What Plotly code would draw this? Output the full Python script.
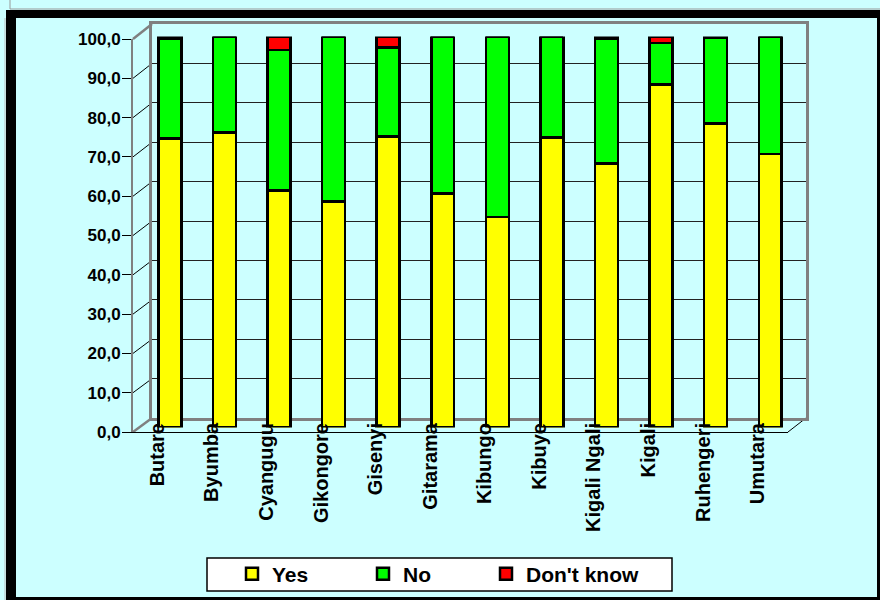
import plotly.graph_objects as go

# ---- data ----
categories = ["Butare", "Byumba", "Cyangugu", "Gikongore", "Gisenyi", "Gitarama",
              "Kibungo", "Kibuye", "Kigali Ngali", "Kigali", "Ruhengeri", "Umutara"]
yes = [73.9, 75.5, 60.6, 57.8, 74.4, 59.9, 53.8, 74.2, 67.5, 87.7, 77.7, 70.0]
no = [25.6, 24.5, 35.9, 42.2, 22.8, 40.1, 46.2, 25.8, 31.9, 10.7, 21.9, 30.0]
dont_know = [0.5, 0.0, 3.5, 0.0, 2.8, 0.0, 0.0, 0.0, 0.6, 1.6, 0.4, 0.0]
tick_values = [0, 10, 20, 30, 40, 50, 60, 70, 80, 90, 100]
tick_labels = ["0,0", "10,0", "20,0", "30,0", "40,0", "50,0", "60,0", "70,0", "80,0", "90,0", "100,0"]

W, H = 880, 600
BG = "#CCFFFF"


def px(x):
    return x / W


def py(y):
    return 1 - y / H


fig = go.Figure()

# subplot 1: back wall (gridlines only)
fig.add_trace(go.Scatter(x=[], y=[], xaxis="x", yaxis="y", showlegend=False, hoverinfo="skip"))

# subplot 2: bars
series = [("Yes", yes, "#FFFF00", "legend"),
          ("No", no, "#00FF00", "legend2"),
          ("Don't know", dont_know, "#FF0000", "legend3")]
for name, vals, col, leg in series:
    fig.add_trace(go.Bar(
        x=categories, y=vals, name=name, xaxis="x2", yaxis="y2",
        width=0.42, legend=leg,
        marker=dict(color=col, line=dict(color="black", width=2.5)),
    ))

# subplot 3: front axes (labels drawn above the bars)
fig.add_trace(go.Scatter(x=[], y=[], xaxis="x3", yaxis="y3", showlegend=False, hoverinfo="skip"))

shapes = []
# left wall diagonals
for v in tick_values:
    yf = 432 - v * 3.93
    yb = 418 - v * 3.94
    edge = v in (0, 100)
    shapes.append(dict(type="line", xref="paper", yref="paper",
                       x0=px(133), y0=py(yf), x1=px(152), y1=py(yb),
                       line=dict(color="#808080" if edge else "black", width=2.5 if edge else 1),
                       layer="below"))
# right floor diagonal
shapes.append(dict(type="line", xref="paper", yref="paper",
                   x0=px(788), y0=py(432), x1=px(806), y1=py(418),
                   line=dict(color="black", width=1), layer="below"))


def rect(x0, y0, x1, y1, fill, line_w=0, line_c=None):
    return dict(type="rect", xref="paper", yref="paper",
                x0=px(x0), y0=py(y1), x1=px(x1), y1=py(y0),
                fillcolor=fill, line=dict(width=line_w, color=line_c or fill), layer="above")


# outer frame
shapes.append(dict(type="line", xref="paper", yref="paper", x0=px(10), y0=py(0), x1=px(10), y1=py(9),
                   line=dict(color="#999999", width=1), layer="above"))
shapes.append(dict(type="line", xref="paper", yref="paper", x0=px(10), y0=py(9), x1=px(880), y1=py(9),
                   line=dict(color="#999999", width=1), layer="above"))
shapes.append(dict(type="line", xref="paper", yref="paper", x0=px(5), y0=py(18), x1=px(5), y1=py(600),
                   line=dict(color="#BBBBBB", width=1), layer="above"))
shapes.append(rect(6, 10, 880, 18, "black"))
shapes.append(rect(6, 10, 16, 600, "black"))
shapes.append(rect(877, 10, 880, 600, "black"))
shapes.append(rect(6, 597, 880, 600, "black"))
# legend box
shapes.append(rect(207, 558, 672, 591, "white", 1.5, "black"))


def legend_at(xpix):
    return dict(orientation="h", x=px(xpix), y=py(574), xanchor="left", yanchor="middle",
                bgcolor="rgba(0,0,0,0)", borderwidth=0,
                font=dict(size=21, weight="bold", color="black"))


fig.update_layout(
    width=W, height=H,
    margin=dict(l=0, r=0, t=0, b=0, autoexpand=False),
    paper_bgcolor=BG, plot_bgcolor="rgba(0,0,0,0)",
    font=dict(family="Liberation Sans, Arial, sans-serif", color="black", weight="bold"),
    barmode="stack",
    shapes=shapes,
    showlegend=True,
    legend=legend_at(232),
    legend2=legend_at(363),
    legend3=legend_at(486),
    xaxis=dict(domain=[px(152), px(806)], range=[0, 1], anchor="y",
               showgrid=False, zeroline=False, showticklabels=False, ticks="",
               showline=True, mirror=True, linecolor="#808080", linewidth=3),
    yaxis=dict(domain=[py(418), py(24)], range=[0, 100], anchor="x",
               tickmode="array", tickvals=tick_values,
               showgrid=True, gridcolor="#222222", gridwidth=1,
               zeroline=False, showticklabels=False, ticks="",
               showline=True, mirror=True, linecolor="#808080", linewidth=3),
    xaxis2=dict(domain=[px(142.5), px(797.5)], range=[-0.5, len(categories) - 0.5],
                anchor="y2", visible=False, type="category", categoryarray=categories),
    yaxis2=dict(domain=[py(427.5), py(36.5)], range=[0, 100], anchor="x2", visible=False),
    xaxis3=dict(domain=[px(133), px(788)], range=[-0.5, len(categories) - 0.5], anchor="y3",
                tickmode="array", tickvals=list(range(len(categories))), ticktext=categories,
                tickangle=-90, tickfont=dict(size=20, weight="bold"),
                ticklabelstandoff=-18, ticklabelshift=-3,
                showgrid=False, zeroline=False, ticks="",
                showline=True, linecolor="black", linewidth=1),
    yaxis3=dict(domain=[py(432), py(39)], range=[0, 100], anchor="x3",
                tickmode="array", tickvals=tick_values, ticktext=tick_labels,
                tickfont=dict(size=17, weight="bold"),
                ticks="outside", ticklen=9, tickcolor="black", tickwidth=1,
                ticklabelstandoff=-2,
                showgrid=False, zeroline=False,
                showline=True, linecolor="#808080", linewidth=2),
)

fig.write_html("out.html")
